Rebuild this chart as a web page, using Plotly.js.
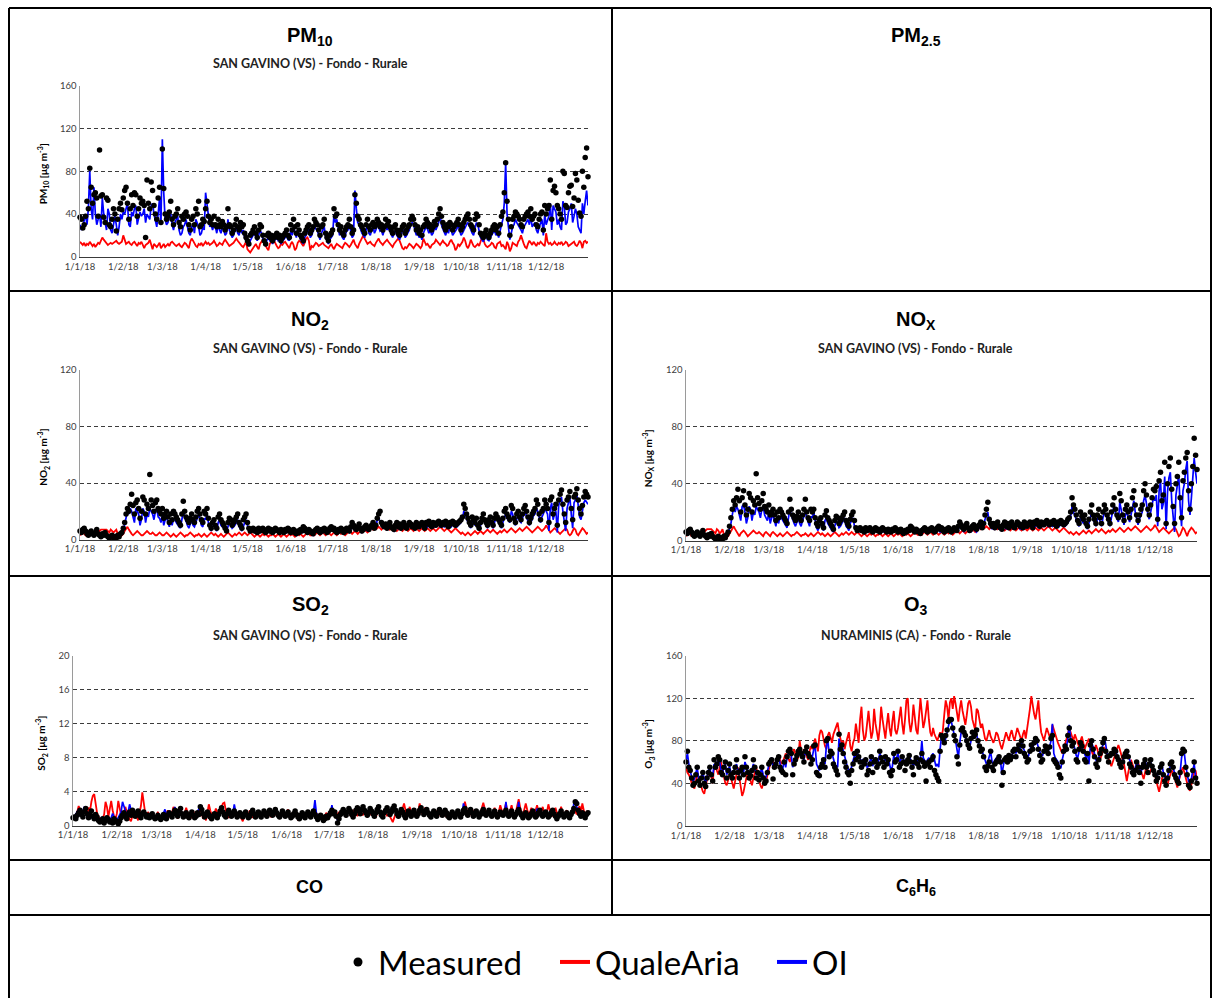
<!DOCTYPE html>
<html><head><meta charset="utf-8">
<script src="https://cdn.plot.ly/plotly-3.0.1.min.js"></script>
<style>html,body{margin:0;padding:0;background:#fff}#chart{width:1213px;height:998px}</style>
</head><body><div id="chart"></div>
<script>
const monthLabels = ["1/1/18","1/2/18","1/3/18","1/4/18","1/5/18","1/6/18","1/7/18","1/8/18","1/9/18","1/10/18","1/11/18","1/12/18"];
const monthStarts = ["2018-01-01","2018-02-01","2018-03-01","2018-04-01","2018-05-01","2018-06-01","2018-07-01","2018-08-01","2018-09-01","2018-10-01","2018-11-01","2018-12-01"];
const seriesNames = ["Measured","QualeAria","OI"];

// ---------- PM10 ----------
const pm10Meas = [
37,35,27,30,38,52,45,83,65,50,58,60,55,38,100,57,58,37,32,55,53,30,28,35,45,40,24,35,45,50,44,
55,62,65,50,35,45,58,48,60,58,38,45,55,50,52,48,18,72,50,45,70,62,48,40,35,55,65,32,
101,64,40,35,38,42,52,35,30,38,40,45,32,28,38,35,40,42,38,30,25,35,38,30,45,40,52,28,30,35,33,
45,52,38,32,35,30,38,30,28,35,30,28,33,30,25,28,45,30,28,22,25,30,35,28,25,32,28,30,22,18,
15,12,20,22,25,28,22,18,25,30,28,20,15,12,20,22,18,20,15,18,20,22,18,20,15,18,20,22,25,20,18,
30,25,35,28,22,30,25,20,18,15,22,25,28,30,22,25,28,35,32,30,25,20,28,30,35,22,18,15,20,22,
25,45,38,40,30,25,28,22,20,25,28,30,35,28,22,25,58,50,38,35,30,28,25,22,30,35,28,25,30,32,28,
30,35,32,28,30,25,28,35,30,33,28,25,22,28,30,25,22,20,25,28,30,22,25,28,30,35,38,35,30,25,28,
22,25,20,28,30,35,32,28,30,25,28,33,30,35,40,45,38,32,28,25,30,28,32,30,25,28,30,32,35,30,
25,28,32,35,38,40,35,30,28,25,35,40,38,30,22,20,18,22,25,20,18,22,25,28,30,25,28,22,30,38,42,
60,88,52,35,20,28,35,38,42,40,38,35,30,28,35,38,40,42,38,45,35,38,40,30,28,35,40,42,25,48,
40,45,48,72,35,62,66,60,48,45,40,35,80,78,48,46,60,66,67,47,55,78,72,53,41,38,80,65,93,102,75];
const pm10QA = [
14,12,11,13,10,12,11,14,12,10,12,9,11,13,12,15,18,16,14,12,11,12,13,12,13,14,15,13,12,13,14,
20,15,12,13,14,12,11,13,14,12,10,13,12,14,10,8,11,12,13,16,10,7,12,10,9,11,13,8,
10,12,9,11,12,10,13,14,12,11,10,11,12,10,9,11,13,12,10,8,14,17,15,12,10,9,12,11,13,10,12,
14,12,13,11,12,13,15,12,10,11,13,12,11,14,16,14,12,10,11,12,13,15,17,15,13,12,10,9,12,14,
7,5,4,6,8,10,12,9,7,12,14,16,13,10,8,6,12,14,18,15,12,10,8,9,12,11,13,14,12,10,8,
12,14,11,6,8,13,15,14,12,10,13,17,18,15,6,10,9,11,13,12,10,11,12,13,11,10,9,8,10,12,
9,7,10,12,11,10,9,8,11,13,12,10,9,11,14,16,12,10,8,12,15,18,20,17,14,12,13,14,12,11,10,
13,15,17,14,12,11,13,15,16,14,12,10,9,12,14,16,17,15,12,8,7,9,8,10,12,11,9,8,10,12,11,
9,8,10,17,14,11,12,10,8,11,12,13,16,14,12,11,13,15,13,12,10,11,14,16,13,11,6,8,12,10,
12,14,18,15,10,8,11,16,13,10,9,11,12,10,14,18,17,12,10,9,10,11,13,12,9,8,12,13,14,10,11,
9,7,14,11,5,8,13,12,11,10,14,16,20,15,12,9,8,12,15,13,11,14,12,10,13,12,14,12,11,10,
22,14,12,13,11,12,14,12,11,13,12,14,11,12,14,13,10,11,12,13,14,11,10,12,15,13,8,14,15,13,14];
const pm10OI = [
30,25,28,35,40,30,45,80,45,35,65,40,30,35,40,28,55,40,30,25,45,40,25,22,30,38,30,20,28,40,35,
42,40,45,50,30,28,42,38,45,48,30,35,42,38,40,45,32,40,38,35,48,50,40,35,28,40,55,30,
110,60,35,30,32,38,40,30,25,32,35,38,25,20,22,28,30,35,28,22,20,28,30,22,35,32,28,20,22,28,25,
60,50,35,28,30,25,30,28,22,30,25,22,28,25,20,22,35,25,22,18,20,25,28,22,20,28,22,25,18,15,
12,10,15,18,20,22,18,15,20,25,22,16,12,10,16,18,15,16,12,15,16,18,15,16,12,15,16,18,20,16,15,
25,20,28,24,18,25,20,16,15,12,18,20,24,26,18,20,24,28,26,25,20,16,22,25,28,18,15,12,16,18,
20,40,32,35,25,20,24,18,16,20,24,25,30,24,18,20,62,45,32,30,25,22,20,18,25,30,22,20,25,28,22,
25,30,28,24,25,20,24,30,25,28,24,20,18,22,25,20,18,16,20,24,25,18,20,22,25,30,32,30,25,20,22,
18,20,16,22,25,28,26,22,25,20,22,28,25,28,32,40,30,26,22,20,25,22,28,25,20,22,25,26,30,25,
20,22,25,28,30,32,28,25,22,20,28,32,30,25,18,16,14,18,20,16,15,18,20,22,25,20,22,18,25,30,35,
50,88,40,28,16,22,28,30,35,32,30,28,25,22,28,30,32,35,30,38,28,30,32,25,22,28,32,35,20,40,
30,35,38,50,25,48,45,42,30,35,28,25,52,48,30,32,42,45,50,32,38,45,40,28,25,22,50,40,52,62,48];

// ---------- NO2 ----------
const no2Meas = [
6,5,7,8,6,4,3,5,6,4,3,5,7,4,3,2,4,3,5,3,2,1,2,3,1,2,1,3,2,4,5,
8,12,18,22,20,25,32,24,18,26,28,22,15,20,30,28,18,25,22,46,28,24,20,26,28,22,20,18,
22,15,18,20,16,12,18,14,20,18,16,14,12,10,18,27,20,16,14,12,15,18,14,12,16,20,22,18,14,12,20,
18,22,15,10,8,12,14,10,8,16,18,14,12,10,8,6,12,15,14,10,12,14,16,18,12,10,8,14,16,18,
12,8,6,7,8,6,7,5,8,6,7,8,6,5,7,8,6,7,5,6,8,7,6,5,7,6,5,7,6,8,7,
5,6,7,5,4,6,5,7,6,9,8,6,5,7,6,5,4,6,7,8,6,5,7,6,8,7,5,6,8,9,
7,8,6,5,7,6,8,7,5,6,8,7,6,9,12,10,8,7,9,11,8,6,7,9,10,8,7,9,10,12,8,
10,15,18,20,12,10,9,11,8,10,12,9,8,7,10,12,9,11,8,10,12,9,8,10,12,11,9,10,8,12,10,
9,11,12,10,8,12,11,13,10,9,12,11,10,12,13,11,10,12,11,13,10,9,12,11,13,12,10,11,12,13,
14,16,25,22,18,15,12,10,16,14,12,15,10,8,12,15,18,14,12,10,14,16,12,10,15,18,16,14,12,10,15,
20,22,18,16,14,24,22,15,12,18,20,16,14,18,22,24,20,16,12,15,18,20,22,28,25,18,14,20,22,28,
25,22,12,28,30,18,22,25,10,28,32,35,25,18,12,28,30,34,22,14,30,32,36,28,22,18,24,30,34,32,30];
const no2QA = [
3,4,5,4,3,5,4,3,4,5,4,3,4,5,6,7,7,7,7,7,6,5,7,6,5,6,7,4,3,2,3,
4,6,8,9,7,5,4,3,4,5,6,5,4,3,3,4,5,6,5,4,4,5,4,3,3,4,5,4,
3,3,4,5,4,3,2,3,4,3,2,3,4,5,4,3,2,3,3,4,5,4,3,2,3,3,4,3,2,3,4,
3,2,3,4,5,4,3,4,3,2,3,4,3,2,3,4,5,4,3,2,3,4,3,4,5,4,3,4,5,4,
3,4,5,4,3,2,3,4,3,2,3,4,3,4,3,2,3,3,4,3,2,3,4,3,2,3,4,3,2,3,4,
3,4,3,2,3,4,3,4,3,2,3,4,5,4,3,3,4,3,4,5,4,3,4,5,4,3,4,5,4,3,
4,5,4,3,4,5,4,5,4,3,4,5,6,5,4,5,6,5,4,5,6,5,6,7,6,5,6,7,8,7,8,
9,8,9,8,7,8,9,8,7,8,7,8,9,8,7,6,7,8,7,6,7,8,7,6,7,8,7,6,7,8,7,
6,7,8,7,6,7,8,7,6,7,8,7,6,7,8,9,8,7,6,7,8,7,6,5,6,7,8,7,6,5,
4,5,4,3,4,5,4,3,4,5,6,5,4,5,6,5,4,5,6,7,6,5,6,7,6,5,4,5,6,5,6,
7,6,5,6,7,8,7,6,5,6,7,8,7,6,7,8,9,8,7,6,5,6,7,8,9,8,7,6,7,8,
10,8,6,5,6,7,8,7,6,5,4,5,6,7,8,7,4,3,4,6,8,7,4,3,5,7,8,7,5,4,5];
const no2OI = [
5,4,6,7,5,4,3,4,5,3,3,4,6,4,3,2,3,3,4,3,2,1,2,2,1,2,1,2,2,3,4,
6,10,15,20,18,22,20,15,12,22,20,18,10,14,22,20,12,18,16,22,20,18,14,20,22,16,15,12,
18,10,14,16,12,9,14,10,15,14,12,10,9,8,14,20,16,12,10,8,12,14,10,9,12,16,18,14,10,9,15,
14,18,12,8,6,9,11,8,6,12,14,10,9,8,6,5,9,12,10,8,9,10,12,14,9,8,6,10,12,14,
9,6,5,6,6,5,6,4,6,5,6,6,5,4,6,6,5,6,4,5,6,6,5,4,6,5,4,6,5,6,6,
4,5,6,4,3,5,4,6,5,7,6,5,4,6,5,4,3,5,6,6,5,4,6,5,6,6,4,5,6,7,
6,6,5,4,6,5,6,6,4,5,6,6,5,7,9,8,6,6,7,9,6,5,6,7,8,6,6,7,8,10,7,
9,14,15,13,10,8,8,9,7,8,10,8,7,6,8,10,8,9,7,8,10,8,7,8,10,9,8,8,7,10,9,
8,9,10,9,7,10,9,11,9,8,10,9,9,10,11,9,9,10,9,11,9,8,10,9,11,10,9,9,10,11,
12,14,20,18,14,12,10,8,13,12,10,12,8,7,10,12,15,12,10,8,12,14,10,8,12,15,14,12,10,8,12,
16,18,15,13,12,20,18,12,10,15,17,13,12,15,18,20,16,13,10,12,15,17,18,22,20,15,12,16,18,22,
20,18,6,22,26,14,18,20,5,24,28,30,20,14,6,22,26,30,18,8,26,28,32,22,16,14,20,26,28,26,25];

// ---------- NOx ----------
const noxMeas = [
6,5,7,8,6,4,3,5,6,4,3,5,7,4,3,2,4,3,5,3,2,1,2,3,1,2,1,3,2,4,6,
10,16,22,28,25,30,36,28,20,30,35,25,18,22,33,30,20,28,25,47,30,26,22,28,33,24,22,20,
25,18,20,22,18,14,20,16,22,20,18,16,14,12,20,29,22,18,16,14,17,20,16,14,18,22,29,20,16,14,22,
20,22,16,12,10,14,16,12,9,18,21,16,14,12,10,8,14,17,16,12,14,16,18,20,14,12,10,15,18,20,
14,9,7,8,9,7,8,6,9,7,8,9,7,6,8,9,7,8,6,7,9,8,7,6,8,7,6,8,7,9,8,
6,7,8,6,5,7,6,8,7,10,9,7,6,8,7,6,5,7,8,9,7,6,8,7,9,8,6,7,9,10,
8,9,7,6,8,7,9,8,6,7,9,8,7,10,13,11,9,8,10,12,9,7,8,10,11,9,8,10,11,13,9,
12,18,22,27,15,12,10,12,9,11,13,10,9,8,11,13,10,12,9,11,13,10,9,11,13,12,10,11,9,13,11,
10,12,13,11,9,13,12,14,11,10,13,12,11,13,14,12,11,13,12,14,11,10,13,12,14,13,11,12,13,15,
16,20,30,25,22,18,14,12,20,17,15,18,12,10,15,20,25,18,15,12,18,22,16,12,20,25,22,18,15,12,20,
25,30,22,18,16,33,28,18,14,22,25,20,16,22,30,35,25,18,14,18,22,25,35,40,32,22,18,25,30,36,
35,38,15,42,48,28,32,55,12,40,52,58,36,24,12,40,45,55,30,16,42,48,58,62,35,22,40,52,72,60,50];
const noxQA = [
3,4,6,5,3,5,4,3,5,6,4,3,5,6,7,8,8,8,8,7,6,5,8,7,5,6,8,4,3,2,3,
5,7,9,10,8,6,4,3,5,6,7,6,4,3,4,5,6,7,6,5,5,6,5,4,3,5,6,5,
4,3,5,6,5,4,3,4,5,4,3,4,5,6,5,4,3,4,4,5,6,5,4,3,4,4,5,4,3,4,5,
4,3,4,5,6,5,4,5,4,3,4,5,4,3,4,5,6,5,4,3,4,5,4,5,6,5,4,5,6,5,
4,5,6,5,4,3,4,5,4,3,4,5,4,5,4,3,4,4,5,4,3,4,5,4,3,4,5,4,3,4,5,
4,5,4,3,4,5,4,5,4,3,4,5,6,5,4,4,5,4,5,6,5,4,5,6,5,4,5,6,5,4,
5,6,5,4,5,6,5,6,5,4,5,6,7,6,5,6,7,6,5,6,7,6,7,8,7,6,7,8,9,8,9,
10,9,10,9,8,9,10,9,8,9,8,9,10,9,8,7,8,9,8,7,8,9,8,7,8,9,8,7,8,9,8,
7,8,9,8,7,8,9,8,7,8,9,8,7,8,9,10,9,8,7,8,9,8,7,6,7,8,9,8,7,6,
5,6,5,4,5,6,5,4,5,6,7,6,5,6,7,6,5,6,7,8,7,6,7,8,7,6,5,6,7,6,7,
8,7,6,7,8,9,8,7,6,7,8,9,8,7,8,9,10,9,8,7,6,7,8,9,10,9,8,7,8,9,
11,9,7,6,7,8,9,8,7,6,5,6,7,8,9,8,5,3,4,7,9,8,5,3,6,8,9,8,6,5,6];
const noxOI = [
5,4,6,7,5,4,3,4,5,3,3,4,6,4,3,2,3,3,4,3,2,1,2,2,1,2,1,2,2,3,5,
8,12,18,24,20,24,22,18,14,24,25,20,12,16,24,22,14,20,18,24,22,20,16,22,24,18,16,14,
20,12,16,18,14,10,16,12,17,16,14,12,10,9,16,22,18,14,12,10,14,16,12,10,14,18,20,16,12,10,17,
16,20,13,9,7,11,13,9,7,14,16,12,10,9,7,6,10,14,12,9,10,12,14,16,10,9,7,12,14,16,
10,7,6,6,7,6,6,5,7,6,6,7,6,5,6,7,6,6,5,6,7,6,6,5,6,6,5,6,6,7,6,
5,6,6,5,4,6,5,6,6,8,7,6,5,6,6,5,4,6,6,7,6,5,6,6,7,6,5,6,7,8,
6,7,6,5,6,6,7,6,5,6,7,6,6,8,10,9,7,6,8,10,7,6,6,8,9,7,6,8,9,11,8,
10,15,17,20,12,10,8,10,8,9,11,8,8,7,9,11,8,10,8,9,11,8,8,9,11,10,8,9,8,11,9,
9,10,11,10,8,11,10,12,9,9,11,10,10,11,12,10,10,11,10,12,10,9,11,10,12,11,10,10,11,13,
14,17,24,20,18,15,12,10,16,14,12,15,10,8,12,16,20,15,12,10,15,18,13,10,16,20,18,15,12,10,16,
20,25,18,15,13,27,22,15,11,18,20,16,13,18,24,28,20,15,11,15,18,20,28,32,26,18,15,20,25,30,
28,32,10,35,42,22,26,45,8,34,44,48,28,18,6,32,38,46,24,10,35,40,50,56,28,18,30,42,58,48,40];

// ---------- SO2 ----------
const so2Meas = [
0.9,1.0,0.8,1.2,1.5,1.8,1.3,1.0,1.6,2.0,1.4,0.9,1.2,1.7,1.1,0.8,1.3,1.0,0.6,0.4,0.5,0.8,0.3,0.6,0.9,0.7,0.4,0.5,0.3,0.8,0.6,
0.4,0.2,0.5,0.9,1.2,1.5,1.1,0.8,1.3,1.6,1.2,1.8,1.5,1.1,1.4,1.7,1.2,0.9,1.4,1.6,1.3,1.0,1.2,0.9,1.1,1.4,1.0,0.8,
0.9,1.2,1.0,0.7,0.9,1.3,1.1,0.8,1.2,1.5,1.3,1.0,1.4,1.8,1.5,1.1,1.7,2.0,1.4,1.0,1.2,1.5,1.1,0.9,1.3,1.6,1.2,0.9,1.1,1.5,1.3,
2.2,1.9,1.4,1.0,1.2,1.6,1.3,1.0,0.8,1.1,1.4,1.2,0.9,1.3,1.7,2.1,1.6,1.2,1.0,1.4,1.8,1.5,1.1,1.3,1.7,1.4,1.0,1.2,1.5,1.3,
1.0,1.3,1.6,1.2,0.9,1.1,1.5,1.8,1.4,1.0,1.2,1.6,1.3,1.0,1.4,1.7,1.3,1.1,1.5,1.8,1.4,1.2,1.6,1.9,1.5,1.2,1.0,1.3,1.7,1.4,1.1,
1.3,1.6,1.2,0.9,1.1,1.4,1.7,1.3,1.0,0.8,1.2,1.5,1.1,0.9,1.3,1.6,1.2,1.0,1.4,1.7,1.3,1.0,0.7,0.9,1.2,1.0,0.6,0.8,1.1,0.9,
1.2,1.5,1.8,1.4,1.6,1.1,0.3,0.8,1.3,1.6,1.9,1.5,1.2,1.6,2.0,1.7,1.3,1.0,1.4,1.8,2.1,1.7,1.4,1.9,2.2,1.8,1.5,1.2,1.6,2.0,1.7,
1.4,1.1,1.5,1.9,2.2,1.6,1.2,1.0,1.5,1.8,2.1,1.7,1.3,1.6,2.0,2.3,1.8,1.4,1.1,1.5,1.9,1.6,1.2,0.9,1.3,1.7,1.4,1.1,1.5,1.8,1.4,
1.1,1.4,1.8,2.1,1.7,1.3,1.6,1.9,1.5,1.2,1.0,1.4,1.7,1.3,1.1,1.5,1.9,1.6,1.2,1.4,1.8,1.5,1.1,0.9,1.3,1.6,1.2,1.0,1.4,1.7,
1.3,1.0,1.4,1.8,2.0,1.5,1.2,1.6,1.9,1.5,1.1,1.3,1.7,1.4,1.0,1.3,1.6,1.9,1.4,1.2,1.5,1.8,1.4,1.1,1.4,1.7,1.3,1.0,1.3,1.6,1.4,
1.2,1.5,1.8,1.4,1.1,1.4,1.7,1.3,1.0,1.3,1.6,1.9,1.5,1.2,0.9,1.2,1.5,1.2,0.9,1.1,1.4,1.7,1.3,1.0,1.2,1.5,1.8,1.4,1.1,1.3,
1.6,1.3,1.0,1.2,1.5,1.8,1.4,1.1,0.8,1.1,1.4,1.7,1.3,1.0,1.2,1.5,1.2,0.9,1.3,1.6,2.0,2.8,2.6,1.8,1.4,1.1,1.5,1.2,0.9,1.3,1.5];
const so2QA = [
1.0,0.7,1.2,1.6,2.3,1.8,1.4,1.1,2.0,1.5,1.2,2.1,1.7,2.8,3.5,3.7,2.6,1.5,1.0,0.7,0.5,0.9,1.3,2.8,2.2,1.0,1.9,2.9,1.8,1.1,0.8,
1.4,2.9,2.0,1.2,0.8,1.5,2.2,1.6,1.1,0.7,0.5,1.2,1.8,1.4,1.0,0.6,1.5,2.3,3.9,2.4,1.5,1.1,1.6,1.2,0.9,1.3,1.0,0.8,
1.2,1.6,1.0,0.7,1.1,1.4,0.9,1.3,1.8,1.2,0.9,1.5,2.2,1.6,1.2,0.8,1.3,1.9,1.4,1.0,1.5,2.1,1.5,1.1,0.8,1.2,1.7,1.3,1.0,1.4,1.6,
1.9,1.4,0.8,1.2,0.6,1.5,2.5,1.8,1.2,1.0,1.4,2.0,1.5,1.1,1.3,2.2,2.6,2.7,1.8,1.2,0.9,1.3,1.6,1.1,2.0,1.4,1.0,1.5,1.2,0.9,
0.5,1.1,1.4,1.0,1.3,1.8,1.2,0.9,1.5,1.1,1.3,1.7,1.2,1.0,1.4,1.9,1.4,1.1,1.5,1.3,1.0,1.4,1.7,1.2,1.5,1.1,0.9,1.3,1.6,1.2,1.0,
1.5,1.9,1.3,1.0,1.4,1.2,1.6,1.1,0.7,0.9,1.2,1.5,1.0,0.8,1.3,1.7,1.2,1.0,1.5,1.9,1.4,1.1,1.3,1.0,1.4,1.2,0.9,1.1,1.5,1.2,
1.0,1.3,2.0,1.6,1.2,0.9,1.3,1.6,1.1,1.4,1.8,1.3,1.0,1.4,1.7,1.2,1.0,1.5,1.9,1.4,1.1,1.6,2.0,1.5,1.2,1.7,1.4,1.0,1.3,1.6,1.2,
1.5,1.2,1.0,1.4,1.8,1.3,1.0,1.5,1.9,1.4,1.1,1.4,1.0,0.7,0.4,0.9,1.3,1.8,1.4,1.1,1.5,2.0,2.6,1.8,1.3,1.6,2.2,1.5,1.1,1.4,1.7,
1.2,1.6,2.6,1.8,1.3,1.7,2.1,1.5,1.2,1.4,1.0,1.3,1.7,1.2,1.5,1.9,1.4,1.1,1.5,1.8,1.3,1.0,1.4,1.1,1.3,1.7,1.2,1.0,1.4,1.8,
1.5,1.1,1.4,1.9,2.8,2.0,1.4,1.1,1.6,2.0,1.5,1.2,1.6,1.3,1.0,1.5,2.2,2.7,2.0,1.3,1.6,1.9,1.4,1.2,1.6,2.1,1.5,1.2,1.7,2.4,1.8,
1.4,1.9,2.6,1.7,1.3,1.8,2.4,1.6,1.2,1.6,2.2,3.1,2.2,1.5,1.2,1.8,2.6,1.9,1.3,1.6,2.1,1.5,1.2,1.8,2.4,1.7,1.3,1.7,2.2,1.5,
1.2,1.6,2.5,1.8,1.3,1.1,1.5,2.1,1.5,1.2,1.6,2.2,1.6,1.2,1.5,1.8,1.3,1.0,1.4,1.9,2.2,1.7,1.3,1.8,2.3,1.6,2.6,1.8,1.3,1.6,1.4];
const so2OI = [
0.8,1.1,1.3,1.6,1.9,1.4,1.1,1.7,2.2,1.5,1.0,1.3,1.5,1.0,0.8,1.2,0.9,0.6,0.5,0.7,0.9,0.6,0.5,0.8,1.1,0.8,0.6,0.9,1.4,1.0,0.7,
0.6,0.9,1.2,1.6,2.8,2.2,1.5,1.2,1.6,2.5,1.8,1.4,1.7,1.3,1.1,1.4,1.2,1.0,1.3,1.5,1.2,1.0,1.1,0.9,1.0,1.3,1.1,0.9,
1.0,1.3,1.1,0.8,1.0,1.5,1.9,1.3,1.1,1.6,1.4,1.1,1.6,2.2,1.6,1.2,1.5,1.8,1.3,1.1,1.3,1.6,1.2,1.0,1.2,1.5,1.3,1.0,1.2,1.6,2.0,
2.4,1.8,1.3,1.1,1.3,1.5,1.2,1.0,0.9,1.2,1.3,1.1,1.0,1.4,1.6,1.8,1.4,1.1,1.1,1.5,1.7,1.4,1.2,1.4,2.5,1.6,1.1,1.3,1.4,1.2,
1.1,1.2,1.4,1.1,1.0,1.2,1.4,1.6,1.3,1.1,1.3,1.5,1.2,1.1,1.3,1.6,1.2,1.2,1.4,1.6,1.3,1.3,1.5,1.7,1.4,1.3,1.1,1.4,1.6,1.3,1.2,
1.4,1.5,1.3,1.0,1.2,1.3,1.6,1.2,1.1,0.9,1.3,1.4,1.2,1.0,1.2,1.5,1.3,1.1,1.3,1.6,3.0,1.5,1.0,1.1,1.2,1.1,0.8,0.9,1.2,1.0,
1.3,1.4,2.4,1.5,1.4,1.2,0.6,0.9,1.2,1.5,1.7,1.4,1.3,1.5,1.8,1.6,1.2,1.1,1.3,1.7,1.9,1.6,1.3,1.7,2.0,1.7,1.4,1.3,1.5,1.8,1.6,
1.3,1.2,1.4,1.7,2.0,1.5,1.3,1.1,1.4,1.7,1.9,1.6,1.2,1.5,1.8,2.1,1.7,1.3,1.2,1.4,1.8,1.5,1.3,1.0,1.2,1.6,1.3,1.2,1.4,1.7,1.3,
1.2,1.3,1.7,1.9,1.6,1.2,1.5,1.8,1.4,1.3,1.1,1.3,1.6,1.2,1.2,1.4,1.8,1.5,1.3,1.3,1.7,1.4,1.2,1.0,1.2,1.5,1.3,1.1,1.3,1.6,
1.2,1.1,1.3,2.6,1.9,1.4,1.3,1.5,1.8,1.4,1.2,1.2,1.6,1.3,1.1,1.2,1.5,2.2,1.3,1.3,1.4,1.7,1.3,1.2,1.3,1.6,1.2,1.1,1.2,1.5,1.3,
1.3,1.4,2.8,1.3,1.2,1.3,1.6,1.2,1.1,1.2,1.5,2.8,1.4,1.3,1.0,1.1,1.4,1.1,1.0,1.2,1.3,1.6,1.2,1.1,2.0,1.4,1.7,1.3,1.2,1.2,
1.5,1.2,1.1,1.1,1.4,1.7,1.3,1.2,0.9,1.0,1.3,1.6,1.2,1.1,1.1,1.4,1.1,1.0,1.2,1.5,2.6,2.5,2.2,1.7,1.3,1.2,1.4,1.1,1.0,1.2,1.4];

// ---------- O3 ----------
const o3Meas = [
60,70,55,52,45,38,40,48,55,42,38,45,50,40,37,45,50,55,48,42,62,55,58,65,62,50,48,55,60,45,52,
58,48,45,50,55,62,50,45,52,55,48,65,55,50,45,47,52,62,55,45,50,43,48,55,45,40,42,50,
58,60,62,44,55,58,62,65,55,52,50,60,48,65,70,72,68,48,58,62,66,70,72,68,65,60,70,74,68,65,58,
62,75,76,50,48,47,55,58,62,55,80,82,65,70,68,58,55,52,48,86,72,76,68,60,55,50,48,40,52,58,
68,62,70,65,60,55,60,58,62,48,52,58,65,50,60,62,55,58,70,64,60,55,65,58,62,50,47,52,68,60,62,
70,55,58,65,60,52,58,62,66,60,55,48,60,64,58,55,62,68,60,56,42,58,60,55,62,65,52,48,45,42,
70,85,82,78,85,90,98,100,100,92,85,80,65,58,76,90,92,88,85,80,76,73,82,88,84,86,90,80,75,70,72,
65,55,52,56,60,70,55,52,58,60,62,65,60,38,50,62,64,60,66,62,65,70,72,65,72,76,70,80,75,68,65,
60,62,70,76,72,78,82,80,72,66,60,62,70,75,72,68,74,82,85,62,60,58,55,48,45,60,70,75,72,85,
92,80,75,78,70,62,60,72,78,75,70,62,60,68,42,76,80,72,65,58,55,62,68,72,78,82,70,65,60,66,68,
68,72,70,65,62,58,55,60,65,68,70,65,58,55,50,48,52,60,55,50,40,55,58,62,55,50,58,62,56,52,
48,42,45,50,55,58,48,42,38,45,52,58,60,55,48,45,42,40,50,68,72,70,55,48,38,36,42,52,60,45,40];
const o3QA = [
55,50,48,45,40,38,35,42,50,45,40,36,32,30,38,45,50,52,45,40,55,58,52,48,55,60,52,45,40,38,42,
48,45,40,35,42,50,55,45,38,28,32,40,45,50,48,42,38,45,50,55,48,42,38,35,40,45,42,48,
52,58,62,60,55,58,64,66,62,58,60,64,68,66,62,60,65,70,72,66,62,64,80,70,66,72,68,65,62,70,75,
72,78,82,76,70,85,90,88,80,75,72,85,88,82,78,86,90,94,97,88,82,76,80,72,78,82,88,75,70,78,
82,96,84,78,100,112,90,80,84,98,108,94,82,88,110,96,86,80,92,112,100,88,82,95,106,92,84,98,108,90,86,
92,104,112,96,86,100,118,120,98,88,96,114,104,90,86,108,120,106,92,98,110,118,100,88,84,92,86,82,80,84,
88,84,90,105,118,112,100,116,120,110,122,115,105,98,110,118,108,100,95,104,115,118,112,100,95,90,110,108,100,92,96,
88,82,80,85,90,84,80,78,82,88,86,80,76,72,78,85,88,84,80,86,90,84,80,86,92,88,84,80,86,90,82,
90,100,110,122,112,105,100,108,118,100,88,84,80,86,92,88,84,80,95,90,86,82,78,74,70,68,72,76,80,86,
92,88,84,80,86,82,78,74,80,84,78,72,76,80,82,74,70,66,72,76,72,68,62,66,70,74,70,66,62,58,56,
60,64,70,74,76,72,66,62,58,48,42,50,56,62,58,54,50,56,60,55,52,48,44,50,56,52,48,52,55,50,
48,42,36,32,38,45,50,46,42,38,44,48,52,50,45,40,36,42,48,52,55,50,45,40,35,33,38,44,50,52,44];
const o3OI = [
62,68,58,50,46,42,44,50,54,45,42,46,50,44,40,46,52,54,48,46,58,56,58,62,60,52,50,55,58,48,52,
56,50,48,52,55,58,52,48,52,54,50,60,56,52,48,48,52,58,54,48,50,46,50,54,48,44,46,52,
58,62,64,56,58,60,64,66,58,55,54,62,55,64,68,70,66,55,60,62,66,68,72,68,65,62,70,72,68,66,62,
65,72,74,58,55,52,58,60,64,58,75,80,68,70,68,62,58,56,55,82,74,76,70,64,58,55,52,50,56,62,
66,64,68,66,62,60,62,60,64,55,56,60,65,56,62,64,58,60,68,65,62,58,65,60,64,56,52,56,66,62,64,
68,60,62,66,62,58,62,64,66,62,60,56,62,65,60,58,64,80,64,60,58,62,64,60,66,68,60,56,58,55,
72,84,80,78,82,88,95,100,98,90,86,80,70,64,78,88,90,86,84,80,76,72,80,84,82,85,86,78,74,72,70,
66,62,58,60,64,70,60,58,62,64,65,66,62,48,56,64,66,62,66,64,66,70,72,68,72,75,72,78,74,70,68,
64,66,72,76,74,78,80,78,74,70,66,66,72,75,74,70,74,80,96,68,64,62,60,56,54,62,70,74,74,82,
95,82,76,78,72,66,64,72,76,74,70,66,64,68,58,74,78,74,68,62,60,64,68,72,76,84,74,68,64,66,68,
70,72,70,66,62,60,58,62,66,68,70,66,60,58,54,52,54,60,58,54,48,56,58,62,56,54,58,60,56,54,
50,46,48,52,56,58,50,46,42,46,52,56,58,54,48,46,44,42,50,64,70,68,56,50,42,40,44,52,58,46,42];

// ---------- layout helpers ----------
const W = 1213, H = 998;
const px = v => v / W;
const py = v => 1 - v / H;

const dates = [];
for (let d = 0; d < 365; d++) {
  const t = new Date(Date.UTC(2018, 0, 1 + d));
  dates.push(t.toISOString().slice(0, 10));
}

const panels = [
  {meas: pm10Meas, qa: pm10QA, oi: pm10OI, x0: 80, x1: 588, yT: 86, yB: 256.7, max: 160, step: 40,
   title: "PM<sub>10</sub>", sub: "SAN GAVINO (VS) - Fondo - Rurale", ytitle: "PM<sub>10</sub> [μg m<sup>-3</sup>]", cx: 310, ty: 36, sy: 64, ytx: 43},
  {meas: no2Meas, qa: no2QA, oi: no2OI, x0: 80, x1: 588, yT: 370, yB: 539.5, max: 120, step: 40,
   title: "NO<sub>2</sub>", sub: "SAN GAVINO (VS) - Fondo - Rurale", ytitle: "NO<sub>2</sub> [μg m<sup>-3</sup>]", cx: 310, ty: 320, sy: 349, ytx: 43},
  {meas: noxMeas, qa: noxQA, oi: noxOI, x0: 686, x1: 1197, yT: 370, yB: 540.5, max: 120, step: 40,
   title: "NO<sub>X</sub>", sub: "SAN GAVINO (VS) - Fondo - Rurale", ytitle: "NO<sub>X</sub> [μg m<sup>-3</sup>]", cx: 916, ty: 320, sy: 349, ytx: 648},
  {meas: so2Meas, qa: so2QA, oi: so2OI, x0: 73, x1: 588, yT: 656, yB: 825.5, max: 20, step: 4,
   title: "SO<sub>2</sub>", sub: "SAN GAVINO (VS) - Fondo - Rurale", ytitle: "SO<sub>2</sub> [μg m<sup>-3</sup>]", cx: 310, ty: 605, sy: 635, ytx: 41},
  {meas: o3Meas, qa: o3QA, oi: o3OI, x0: 686, x1: 1197, yT: 655.7, yB: 825.7, max: 160, step: 40,
   title: "O<sub>3</sub>", sub: "NURAMINIS (CA) - Fondo - Rurale", ytitle: "O<sub>3</sub> [μg m<sup>-3</sup>]", cx: 916, ty: 605, sy: 635, ytx: 648}
];

const traces = [];
const layout = {
  width: W, height: H,
  margin: {l: 0, r: 0, t: 0, b: 0},
  paper_bgcolor: "#ffffff", plot_bgcolor: "rgba(0,0,0,0)",
  showlegend: true,
  legend: {orientation: "h", x: px(338), xanchor: "left", y: py(962), yanchor: "middle",
           font: {family: "Lato, 'Open Sans', sans-serif", size: 33, color: "#000"},
           itemsizing: "trace", tracegroupgap: 0, itemwidth: 30, entrywidth: 172, bgcolor: "rgba(0,0,0,0)"},
  annotations: [], shapes: []
};

const tickFont = {family: "Lato, 'Open Sans', sans-serif", size: 9.5, color: "#404040"};
const titleFont = {family: "'Liberation Sans', Arial, sans-serif", size: 20, color: "#000"};
const subFont = {family: "Lato, 'Open Sans', sans-serif", size: 12.5, color: "#222"};

panels.forEach((p, i) => {
  const n = i === 0 ? "" : String(i + 1);
  const xa = "x" + n, ya = "y" + n;
  const yvals = [];
  for (let v = 0; v <= p.max; v += p.step) yvals.push(v);
  layout["xaxis" + n] = {
    domain: [px(p.x0), px(p.x1)], anchor: ya, type: "date",
    range: ["2018-01-01", "2018-12-31"],
    tickmode: "array", tickvals: monthStarts, ticktext: monthLabels,
    tickfont: tickFont, ticks: "", showgrid: false, zeroline: false,
    showline: true, linecolor: "#3a3a3a", linewidth: 1.5, fixedrange: true
  };
  layout["yaxis" + n] = {
    domain: [py(p.yB), py(p.yT)], anchor: xa, range: [0, p.max],
    tickmode: "array", tickvals: yvals, tickfont: tickFont, ticks: "",
    showgrid: true, gridcolor: "#3c3c3c", gridwidth: 1, griddash: "4px,3px",
    zeroline: false, showline: true, linecolor: "#9a9a9a", linewidth: 1.5, fixedrange: true
  };
  traces.push({x: dates, y: p.qa, xaxis: xa, yaxis: ya, type: "scatter", mode: "lines", name: seriesNames[1],
               line: {color: "#ff0000", width: 1.8}, showlegend: false, cliponaxis: false, hoverinfo: "skip"});
  traces.push({x: dates, y: p.oi, xaxis: xa, yaxis: ya, type: "scatter", mode: "lines", name: seriesNames[2],
               line: {color: "#0000ff", width: 1.7}, showlegend: false, cliponaxis: false, hoverinfo: "skip"});
  traces.push({x: dates, y: p.meas, xaxis: xa, yaxis: ya, type: "scatter", mode: "markers", name: seriesNames[0],
               marker: {color: "#000", size: 5.5}, showlegend: false, cliponaxis: false, hoverinfo: "skip"});
  layout.annotations.push({xref: "paper", yref: "paper", x: px(p.cx), y: py(p.ty), text: "<b>" + p.title + "</b>",
    showarrow: false, xanchor: "center", yanchor: "middle", font: titleFont});
  layout.annotations.push({xref: "paper", yref: "paper", x: px(p.cx), y: py(p.sy), text: "<b>" + p.sub + "</b>",
    showarrow: false, xanchor: "center", yanchor: "middle", font: subFont});
  layout.annotations.push({xref: "paper", yref: "paper", x: px(p.ytx), y: py((p.yT + p.yB) / 2 + 3), text: "<b>" + p.ytitle + "</b>",
    showarrow: false, xanchor: "center", yanchor: "middle", textangle: -90,
    font: {family: "Lato, 'Open Sans', sans-serif", size: 10, color: "#000"}});
});

// Legend entries
traces.push({x: [null], y: [null], type: "scatter", mode: "markers", name: seriesNames[0], marker: {color: "#000", size: 9}, showlegend: true});
traces.push({x: [null], y: [null], type: "scatter", mode: "lines", name: seriesNames[1], line: {color: "#ff0000", width: 4}, showlegend: true});
traces.push({x: [null], y: [null], type: "scatter", mode: "lines", name: seriesNames[2], line: {color: "#0000ff", width: 4}, showlegend: true});

// Empty cells titles
const cellFont = {family: "'Liberation Sans Narrow', 'Liberation Sans', Arial, sans-serif", size: 18, color: "#000"};
layout.annotations.push({xref: "paper", yref: "paper", x: px(916), y: py(36), text: "<b>PM<sub>2.5</sub></b>",
  showarrow: false, xanchor: "center", yanchor: "middle", font: titleFont});
layout.annotations.push({xref: "paper", yref: "paper", x: px(309), y: py(887), text: "<b>CO</b>",
  showarrow: false, xanchor: "center", yanchor: "middle", font: cellFont});
layout.annotations.push({xref: "paper", yref: "paper", x: px(916), y: py(887), text: "<b>C<sub>6</sub>H<sub>6</sub></b>",
  showarrow: false, xanchor: "center", yanchor: "middle", font: cellFont});

// Table borders
const ln = (x0, y0, x1, y1) => ({type: "line", xref: "paper", yref: "paper", x0: px(x0), y0: py(y0), x1: px(x1), y1: py(y1),
  line: {color: "#000", width: 2}, layer: "above"});
layout.shapes.push(ln(9, 8, 1211, 8));
layout.shapes.push(ln(9, 8, 9, 998));
layout.shapes.push(ln(1211, 8, 1211, 998));
layout.shapes.push(ln(9, 291, 1211, 291));
layout.shapes.push(ln(9, 576, 1211, 576));
layout.shapes.push(ln(9, 860, 1211, 860));
layout.shapes.push(ln(9, 915, 1211, 915));
layout.shapes.push(ln(612, 8, 612, 915));

Plotly.newPlot("chart", traces, layout, {staticPlot: true, displayModeBar: false});
</script></body></html>
